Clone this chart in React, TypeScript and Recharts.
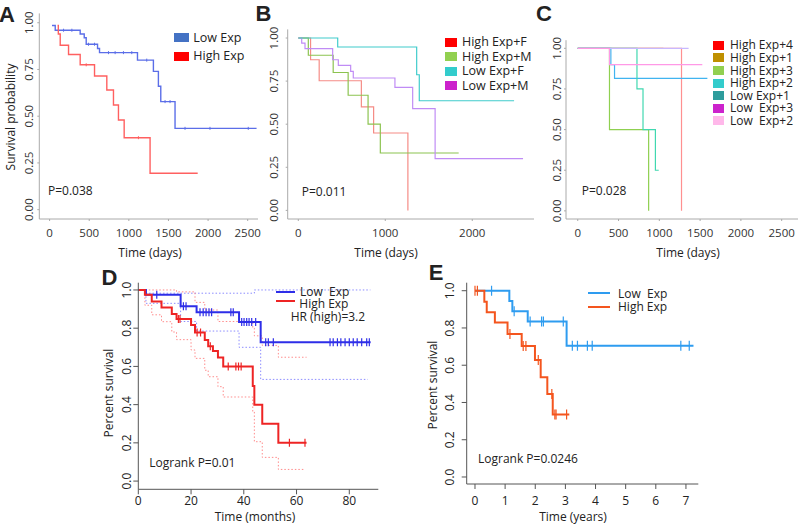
import React from 'react';
import { ComposedChart, Line, XAxis, YAxis } from 'recharts';

const FONT = "'Open Sans', 'Noto Sans', sans-serif";

// ---- panel A (days) ----
const aLowT = [30, 71, 386, 437, 462, 605, 630, 1109, 1310, 1373, 1403, 1583, 2612];
const aLowS = [0.985, 0.96, 0.94, 0.92, 0.885, 0.862, 0.84, 0.8, 0.74, 0.66, 0.578, 0.435, 0.435];
const aLowCens = [176, 281, 491, 567, 743, 827, 932, 1037, 1226, 1457, 1520, 1709, 2024, 2507];
const aHighT = [100, 110, 134, 239, 386, 567, 722, 806, 869, 941, 1268, 1869];
const aHighS = [0.985, 0.94, 0.88, 0.83, 0.775, 0.715, 0.64, 0.56, 0.48, 0.385, 0.195, 0.195];
const aHighCens = [462, 1121];

// ---- panel B (days) ----
const bHighFT = [0, 141, 240, 725, 866, 1260];
const bHighFS = [1, 0.874, 0.752, 0.6, 0.449, 0];
const bHighMT = [0, 115, 401, 573, 802, 943, 1844];
const bHighMS = [1, 0.9, 0.8, 0.668, 0.5, 0.333, 0.333];
const bLowFT = [0, 453, 1361, 1391, 2481];
const bLowFS = [1, 0.948, 0.787, 0.636, 0.636];
const bLowMT = [0, 39, 77, 395, 460, 602, 632, 1111, 1315, 1573, 2584];
const bLowMS = [1, 0.97, 0.938, 0.874, 0.841, 0.806, 0.768, 0.714, 0.59, 0.3, 0.3];

// ---- panel C (days) ----
const cHigh4T = [0, 1272];
const cHigh4S = [1, 0];
const cHigh1T = [0, 1050];
const cHigh1S = [1, 1];
const cHigh3T = [0, 389, 869];
const cHigh3S = [1, 0.5, 0];
const cHigh2T = [0, 726, 800, 952, 993];
const cHigh2S = [1, 0.75, 0.5, 0.25, 0.25];
const cLow1T = [0, 406, 451, 1589];
const cLow1S = [1, 0.9, 0.815, 0.815];
const cLow3T = [0, 1359];
const cLow3S = [1, 1];
const cLow2T = [0, 389, 1527];
const cLow2S = [1, 0.9, 0.9];

// ---- panel D (months) ----
const dLowT = [0, 2.9, 16.05, 22.1, 38.2, 46.4, 88.1];
const dLowS = [1, 0.975, 0.915, 0.883, 0.832, 0.727, 0.727];
const dLowCens = [7, 17.1, 18.1, 23.4, 24.6, 25.7, 26.8, 27.8, 35.1, 36, 39.2, 40.1, 41.1, 42, 43, 44.5,
  48.3, 49.3, 51.2, 72.7, 73.9, 75.5, 76.8, 78.4, 80, 81.5, 83, 84.7, 86.6, 87.6];
const dLowUpT = [0, 2.9, 44, 88];
const dLowUpS = [1, 0.983, 1, 1];
const dLowLoT = [0, 2.9, 16.05, 22.1, 38.2, 46.4, 87];
const dLowLoS = [1, 0.93, 0.835, 0.785, 0.7, 0.532, 0.532];
const dHighT = [0, 2.5, 5.1, 8.8, 12.7, 14.5, 20, 21.5, 25.2, 26.5, 28.3, 30.2, 32.2, 43.4, 44, 47, 53.1, 63.8];
const dHighS = [1, 0.975, 0.94, 0.908, 0.874, 0.848, 0.817, 0.778, 0.738, 0.705, 0.68, 0.646, 0.6, 0.497, 0.4, 0.3, 0.2, 0.2];
const dHighCens = [15.2, 15.8, 22.3, 23.6, 27.3, 34.1, 37, 38, 39, 57.3, 63.2];
const dHighUpT = [0, 14.5, 21.5, 25.2, 30.2, 43.4, 44, 47, 53.1, 63.8];
const dHighUpS = [1, 0.99, 0.935, 0.895, 0.835, 0.8, 0.76, 0.71, 0.648, 0.648];
const dHighLoT = [0, 2.5, 5.1, 8.8, 12.7, 14.5, 20, 21.5, 25.2, 26.5, 30.2, 32.2, 43.4, 44, 47, 53.1, 63.3];
const dHighLoS = [1, 0.92, 0.87, 0.834, 0.78, 0.74, 0.686, 0.642, 0.58, 0.546, 0.494, 0.44, 0.363, 0.206, 0.124, 0.061, 0.061];

// ---- panel E (years) ----
const eLowT = [0, 1.14, 1.24, 1.75, 3.04, 7.25];
const eLowS = [1, 0.945, 0.89, 0.835, 0.705, 0.705];
const eLowCens = [0.55, 1.3, 1.83, 2.21, 2.27, 2.93, 3.23, 3.4, 3.73, 3.89, 6.83, 7.11];
const eHighT = [0, 0.31, 0.39, 0.66, 1.08, 1.55, 1.99, 2.18, 2.4, 2.58, 3.13];
const eHighS = [1, 0.941, 0.884, 0.83, 0.767, 0.703, 0.628, 0.535, 0.445, 0.336, 0.336];
const eHighCens = [0, 0.08, 1.16, 1.6, 1.69, 2.1, 2.55, 2.65, 2.69, 3.04];

const pts = (ts: number[], ss: number[]) => ts.map((t, i) => ({ t, s: ss[i] }));
const stepAt = (ts: number[], ss: number[], t: number) => {
  let v = ss[0];
  ts.forEach((x, i) => { if (x <= t) v = ss[i]; });
  return v;
};
const cens = (ts: number[], ss: number[], cs: number[]) => cs.map((t) => ({ t, s: stepAt(ts, ss, t) }));

const rotTick = (shift: number, digits: number, color: string, size: number) => (props: any) => {
  const { x, y, payload } = props;
  const cx = x - shift;
  return (
    <text x={cx} y={y} transform={`rotate(-90, ${cx}, ${y})`} textAnchor="middle"
      dominantBaseline="central" fontSize={size} fill={color} fontFamily={FONT}>
      {Number(payload.value).toFixed(digits)}
    </text>
  );
};

const plusDot = (color: string, h: number, w: number, sw: number) => (p: any) => (
  <path key={`c${p.index}`} d={`M${p.cx},${p.cy - h}V${p.cy + h}M${p.cx - w},${p.cy}H${p.cx + w}`}
    stroke={color} strokeWidth={sw} fill="none" />
);

const step = (key: string, data: any[], color: string, width: number, dash?: string) => (
  <Line key={key} data={data} dataKey="s" type="stepAfter" stroke={color} strokeWidth={width}
    strokeDasharray={dash} dot={false} activeDot={false} isAnimationActive={false} />
);
const marks = (key: string, data: any[], color: string, h: number, w: number, sw: number) => (
  <Line key={key} data={data} dataKey="s" stroke="none" dot={plusDot(color, h, w, sw)}
    activeDot={false} isAnimationActive={false} />
);

const Txt = ({ x, y, children, size = 12, anchor = 'left', rotate = false, bold = false, family = FONT }: any) => (
  <div style={{
    position: 'absolute', left: x, top: y, whiteSpace: 'pre', fontSize: size, lineHeight: 1,
    fontFamily: family, fontWeight: bold ? 700 : 400, color: '#222',
    transform: rotate ? 'translate(-50%,-50%) rotate(-90deg)' : anchor === 'center' ? 'translate(-50%,-50%)' : 'translate(0,-50%)',
  }}>{children}</div>
);
const Box = ({ x, y, w, h, c }: any) => (
  <div style={{ position: 'absolute', left: x, top: y, width: w, height: h, background: c }} />
);
const Seg = ({ x, y, w, c }: any) => (
  <div style={{ position: 'absolute', left: x, top: y - 1, width: w, height: 2, background: c }} />
);

const gray = '#aaaaaa';
const tickTxt = { fontSize: 11.5, fill: '#333', fontFamily: FONT };
const survTicks = [0, 0.25, 0.5, 0.75, 1];
const LETTER = "'Liberation Sans', Arial, sans-serif";

const App = () => {
  const bLegend = [
    ['High Exp+F', '#ff0000'], ['High Exp+M', '#92d050'], ['Low Exp+F', '#33cccc'], ['Low Exp+M', '#cc22cc'],
  ];
  const cLegend = [
    ['High Exp+4', '#ff0000'], ['High Exp+1', '#bf9000'], ['High Exp+3', '#92d050'], ['High Exp+2', '#33cccc'],
    ['Low Exp+1', '#2e9c9c'], ['Low  Exp+3', '#cc22cc'], ['Low  Exp+2', '#ffb8ea'],
  ];
  return (
    <div style={{ position: 'absolute', left: 0, top: 0, width: 798, height: 526, background: '#fff', overflow: 'hidden' }}>
      {/* A */}
      <div style={{ position: 'absolute', left: 0, top: 0 }}>
        <ComposedChart width={262} height={250} margin={{ top: 13.4, right: 4, bottom: 0, left: 0 }}>
          <XAxis dataKey="t" type="number" domain={[-130, 2630]} allowDataOverflow ticks={[0, 500, 1000, 1500, 2000, 2500]}
            height={31} tickSize={2} tickMargin={8} stroke={gray} tick={tickTxt} />
          <YAxis type="number" domain={[-0.05, 1.05]} allowDataOverflow ticks={survTicks} width={39.3}
            tickSize={2} tickMargin={0} stroke={gray} tick={rotTick(8.5, 2, '#333', 11.5)} />
          {step('al', pts(aLowT, aLowS), '#5b6ee8', 1.4)}
          {step('ah', pts(aHighT, aHighS), '#ff6060', 1.4)}
          {marks('alc', cens(aLowT, aLowS, aLowCens), '#5b6ee8', 1.5, 0, 1)}
          {marks('ahc', cens(aHighT, aHighS, aHighCens), '#ff6060', 1.5, 0, 1)}
        </ComposedChart>
      </div>
      {/* B */}
      <div style={{ position: 'absolute', left: 248, top: 0 }}>
        <ComposedChart width={290} height={250} margin={{ top: 29.4, right: 4, bottom: 0, left: 0 }}>
          <XAxis dataKey="t" type="number" domain={[-122, 2710]} allowDataOverflow ticks={[0, 1000, 2000]}
            height={31} tickSize={2} tickMargin={8} stroke={gray} tick={tickTxt} />
          <YAxis type="number" domain={[-0.05, 1.05]} allowDataOverflow ticks={survTicks} width={39.7}
            tickSize={2} tickMargin={0} stroke={gray} tick={rotTick(12, 2, '#333', 11.5)} />
          {step('bhf', pts(bHighFT, bHighFS), '#f58c86', 1.2)}
          {step('bhm', pts(bHighMT, bHighMS), '#8cc350', 1.2)}
          {step('blm', pts(bLowMT, bLowMS), '#c08cf5', 1.2)}
          {step('blf', pts(bLowFT, bLowFS), '#40cccc', 1.2)}
        </ComposedChart>
      </div>
      {/* C */}
      <div style={{ position: 'absolute', left: 526, top: 0 }}>
        <ComposedChart width={272} height={250} margin={{ top: 40.2, right: 0, bottom: 0, left: 0 }}>
          <XAxis dataKey="t" type="number" domain={[-144, 2700]} allowDataOverflow ticks={[0, 500, 1000, 1500, 2000, 2500]}
            height={31} tickSize={2} tickMargin={8} stroke={gray} tick={tickTxt} />
          <YAxis type="number" domain={[-0.05, 1.05]} allowDataOverflow ticks={survTicks} width={40}
            tickSize={2} tickMargin={0} stroke={gray} tick={rotTick(7.5, 2, '#333', 11.5)} />
          {step('ch1', pts(cHigh1T, cHigh1S), '#d9b860', 1.2)}
          {step('ch4', pts(cHigh4T, cHigh4S), '#ff9090', 1.2)}
          {step('ch3', pts(cHigh3T, cHigh3S), '#8fd050', 1.2)}
          {step('cl1', pts(cLow1T, cLow1S), '#40b4f0', 1.2)}
          {step('ch2', pts(cHigh2T, cHigh2S), '#40d8b0', 1.2)}
          {step('cl3', pts(cLow3T, cLow3S), '#c8b8ff', 1.2)}
          {step('cl2', pts(cLow2T, cLow2S), '#ff99e6', 1.2)}
        </ComposedChart>
      </div>
      {/* D */}
      <div style={{ position: 'absolute', left: 98, top: 262 }}>
        <ComposedChart width={282} height={264} margin={{ top: 20.7, right: 1.7, bottom: 0, left: 0 }}>
          <XAxis dataKey="t" type="number" domain={[0, 91]} allowDataOverflow ticks={[0, 20, 40, 60, 80]}
            height={36.7} tickSize={5} tickMargin={2} stroke="#555" tick={{ ...tickTxt, fontSize: 12, fill: '#222' }} />
          <XAxis xAxisId="top" orientation="top" dataKey="t" type="number" domain={[0, 91]} allowDataOverflow
            height={0} tick={false} tickLine={false} stroke="#555" />
          <YAxis type="number" domain={[-0.043, 1.038]} allowDataOverflow ticks={[0, 0.2, 0.4, 0.6, 0.8, 1]} width={40.3}
            tickSize={5} tickMargin={0} stroke="#555" tick={rotTick(6.6, 1, '#222', 12)} />
          <YAxis yAxisId="right" orientation="right" type="number" domain={[0, 1]} width={0} tick={false}
            tickLine={false} stroke="#555" />
          {step('dlu', pts(dLowUpT, dLowUpS), '#8c8cff', 1, '1.5 2')}
          {step('dll', pts(dLowLoT, dLowLoS), '#8c8cff', 1, '1.5 2')}
          {step('dhu', pts(dHighUpT, dHighUpS), '#ff8c8c', 1, '1.5 2')}
          {step('dhl', pts(dHighLoT, dHighLoS), '#ff8c8c', 1, '1.5 2')}
          {step('dl', pts(dLowT, dLowS), '#2e2ee8', 2)}
          {step('dh', pts(dHighT, dHighS), '#ee2424', 2)}
          {marks('dlc', cens(dLowT, dLowS, dLowCens), '#2e2ee8', 4, 0, 1.2)}
          {marks('dhc', cens(dHighT, dHighS, dHighCens), '#ee2424', 4, 0, 1.2)}
        </ComposedChart>
      </div>
      {/* E */}
      <div style={{ position: 'absolute', left: 420, top: 262 }}>
        <ComposedChart width={282} height={264} margin={{ top: 20.7, right: 3.7, bottom: 0, left: 0 }}>
          <XAxis dataKey="t" type="number" domain={[-0.275, 7.41]} allowDataOverflow ticks={[0, 1, 2, 3, 4, 5, 6, 7]}
            height={42} tickSize={5} tickMargin={7.5} stroke="#555" tick={{ ...tickTxt, fontSize: 12, fill: '#222' }} />
          <XAxis xAxisId="top" orientation="top" dataKey="t" type="number" domain={[-0.275, 7.41]} allowDataOverflow
            height={0} tick={false} tickLine={false} stroke="#555" />
          <YAxis type="number" domain={[-0.0376, 1.043]} allowDataOverflow ticks={[0, 0.2, 0.4, 0.6, 0.8, 1]} width={46.7}
            tickSize={5} tickMargin={0} stroke="#555" tick={rotTick(11.7, 1, '#222', 12)} />
          <YAxis yAxisId="right" orientation="right" type="number" domain={[0, 1]} width={0} tick={false}
            tickLine={false} stroke="#555" />
          {step('el', pts(eLowT, eLowS), '#2e9cf0', 2)}
          {step('eh', pts(eHighT, eHighS), '#f4551e', 2)}
          {marks('elc', cens(eLowT, eLowS, eLowCens), '#2e9cf0', 5, 0, 1.2)}
          {marks('ehc', cens(eHighT, eHighS, eHighCens), '#f4551e', 5, 0, 1.2)}
        </ComposedChart>
      </div>

      {/* panel letters */}
      <Txt x={7} y={15} size={22} bold anchor="center" family={LETTER}>A</Txt>
      <Txt x={263.5} y={14} size={22} bold anchor="center" family={LETTER}>B</Txt>
      <Txt x={544} y={14} size={22} bold anchor="center" family={LETTER}>C</Txt>
      <Txt x={109.5} y={277.5} size={22} bold anchor="center" family={LETTER}>D</Txt>
      <Txt x={436} y={273} size={22} bold anchor="center" family={LETTER}>E</Txt>

      {/* axis titles */}
      <Txt x={10.7} y={117} rotate>Survival probability</Txt>
      <Txt x={150} y={253} anchor="center">Time (days)</Txt>
      <Txt x={386} y={253} anchor="center">Time (days)</Txt>
      <Txt x={688} y={253} anchor="center">Time (days)</Txt>
      <Txt x={109} y={393} rotate>Percent survival</Txt>
      <Txt x={255} y={517} anchor="center">Time (months)</Txt>
      <Txt x={433} y={385} rotate>Percent survival</Txt>
      <Txt x={573} y={517} anchor="center">Time (years)</Txt>

      {/* p values */}
      <Txt x={48} y={191}>P=0.038</Txt>
      <Txt x={301.7} y={192}>P=0.011</Txt>
      <Txt x={581.7} y={190.7}>P=0.028</Txt>
      <Txt x={149.3} y={462.5}>Logrank P=0.01</Txt>
      <Txt x={478} y={459.3}>Logrank P=0.0246</Txt>

      {/* legend A */}
      <Box x={174} y={33} w={15} h={9} c="#4472c4" />
      <Txt x={193.3} y={37.5} size={12.5}>Low Exp</Txt>
      <Box x={174} y={51.5} w={15} h={9} c="#ff0000" />
      <Txt x={193.3} y={56} size={12.5}>High Exp</Txt>

      {/* legend B */}
      {bLegend.map(([name, c], i) => (
        <React.Fragment key={name}>
          <Box x={445} y={42.3 + i * 14.4 - 4.5} w={12} h={9} c={c} />
          <Txt x={462} y={42.3 + i * 14.4} size={12.5}>{name}</Txt>
        </React.Fragment>
      ))}

      {/* legend C */}
      {cLegend.map(([name, c], i) => (
        <React.Fragment key={name}>
          <Box x={712.7} y={45.3 + i * 12.6 - 4.5} w={11.7} h={9} c={c} />
          <Txt x={730} y={45.3 + i * 12.6} size={12}>{name}</Txt>
        </React.Fragment>
      ))}

      {/* legend D */}
      <Seg x={276} y={291.7} w={19} c="#2e2ee8" />
      <Seg x={276} y={300.7} w={19} c="#ee2424" />
      <Txt x={300} y={292} size={12}>Low  Exp</Txt>
      <Txt x={299.3} y={304} size={12}>High Exp</Txt>
      <Txt x={290.7} y={316.5} size={12}>HR (high)=3.2</Txt>

      {/* legend E */}
      <Seg x={588} y={293.3} w={22} c="#2e9cf0" />
      <Seg x={588} y={306.7} w={22} c="#f4551e" />
      <Txt x={618} y={293.5} size={12}>Low  Exp</Txt>
      <Txt x={618} y={306.5} size={12}>High Exp</Txt>
    </div>
  );
};

export default App;
